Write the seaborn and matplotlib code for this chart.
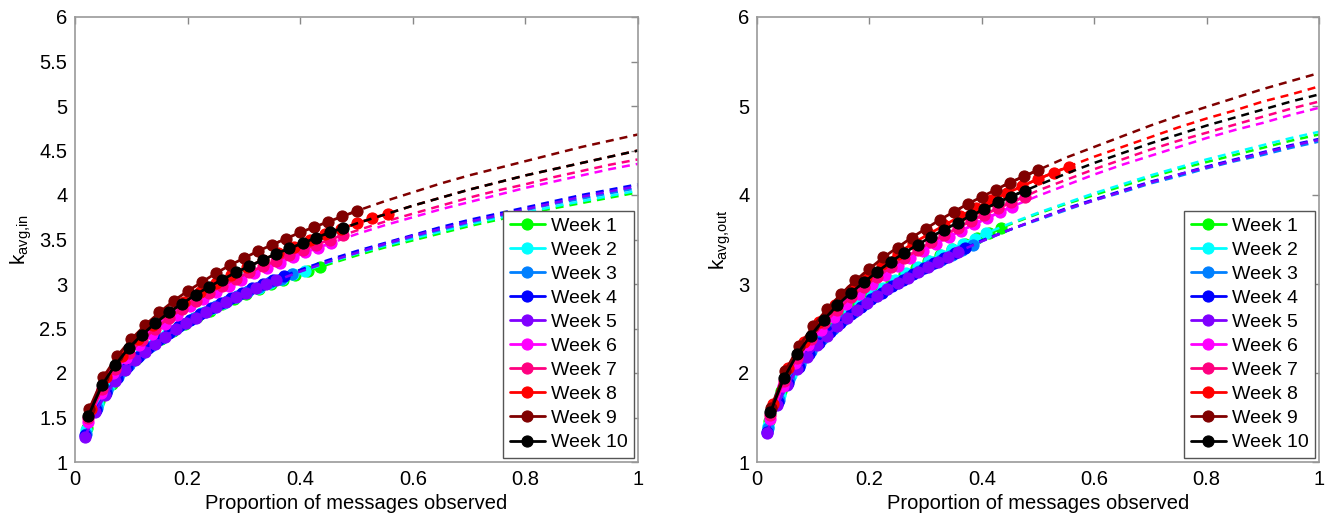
import numpy as np
import pandas as pd
import matplotlib
matplotlib.use("Agg")
import matplotlib.pyplot as plt
import seaborn as sns

# ---------------- data ----------------
weeks = ["Week 1", "Week 2", "Week 3", "Week 4", "Week 5",
         "Week 6", "Week 7", "Week 8", "Week 9", "Week 10"]
colors = ['#00ff00', '#00ffff', '#0080ff', '#0000ff', '#8000ff',
          '#ff00ff', '#ff0080', '#ff0000', '#800000', '#000000']

# each week: 20 observation steps; proportion observed = step / n_subsets
steps = [1, 2, 3, 4, 5, 6, 7, 8, 9, 10, 11, 12, 13, 14, 15, 16, 17, 18, 19, 20]
n_subsets = [46, 49, 52, 54, 56, 44, 42, 36, 40, 42]

# observed k_avg,in
kin_obs = [
    [1.38, 1.68, 1.88, 2.03, 2.16, 2.28, 2.38, 2.47, 2.55, 2.63, 2.70, 2.77, 2.83, 2.89, 2.94, 3.00, 3.05, 3.10, 3.15, 3.19],
    [1.36, 1.65, 1.85, 2.01, 2.14, 2.25, 2.35, 2.44, 2.52, 2.60, 2.67, 2.73, 2.79, 2.85, 2.91, 2.96, 3.01, 3.06, 3.11, 3.15],
    [1.32, 1.61, 1.81, 1.96, 2.09, 2.20, 2.30, 2.39, 2.47, 2.55, 2.62, 2.69, 2.75, 2.81, 2.86, 2.92, 2.97, 3.02, 3.06, 3.11],
    [1.30, 1.58, 1.78, 1.94, 2.07, 2.18, 2.28, 2.37, 2.45, 2.53, 2.60, 2.66, 2.73, 2.79, 2.84, 2.90, 2.95, 3.00, 3.04, 3.09],
    [1.28, 1.56, 1.75, 1.91, 2.03, 2.15, 2.24, 2.33, 2.41, 2.49, 2.56, 2.62, 2.68, 2.74, 2.80, 2.85, 2.90, 2.95, 3.00, 3.04],
    [1.45, 1.77, 2.00, 2.17, 2.32, 2.44, 2.55, 2.65, 2.75, 2.83, 2.91, 2.98, 3.05, 3.12, 3.18, 3.24, 3.30, 3.36, 3.41, 3.46],
    [1.49, 1.82, 2.05, 2.22, 2.37, 2.50, 2.62, 2.72, 2.81, 2.90, 2.98, 3.06, 3.13, 3.20, 3.26, 3.33, 3.38, 3.44, 3.50, 3.55],
    [1.59, 1.95, 2.19, 2.38, 2.54, 2.68, 2.80, 2.91, 3.01, 3.10, 3.19, 3.27, 3.35, 3.42, 3.49, 3.56, 3.62, 3.68, 3.74, 3.79],
    [1.59, 1.95, 2.19, 2.38, 2.54, 2.68, 2.81, 2.92, 3.02, 3.12, 3.21, 3.29, 3.37, 3.44, 3.51, 3.58, 3.64, 3.70, 3.76, 3.82],
    [1.52, 1.86, 2.09, 2.28, 2.43, 2.56, 2.68, 2.78, 2.88, 2.97, 3.05, 3.13, 3.20, 3.27, 3.34, 3.40, 3.46, 3.52, 3.58, 3.63],
]

# observed k_avg,out
kout_obs = [
    [1.46, 1.80, 2.04, 2.22, 2.38, 2.51, 2.64, 2.75, 2.85, 2.94, 3.03, 3.11, 3.18, 3.26, 3.33, 3.39, 3.45, 3.52, 3.57, 3.63],
    [1.41, 1.75, 1.98, 2.17, 2.32, 2.46, 2.58, 2.69, 2.79, 2.88, 2.96, 3.05, 3.12, 3.19, 3.26, 3.33, 3.39, 3.45, 3.51, 3.57],
    [1.38, 1.70, 1.93, 2.10, 2.25, 2.38, 2.50, 2.60, 2.69, 2.78, 2.86, 2.94, 3.01, 3.08, 3.15, 3.21, 3.27, 3.33, 3.38, 3.44],
    [1.34, 1.67, 1.89, 2.07, 2.21, 2.34, 2.46, 2.56, 2.66, 2.74, 2.83, 2.90, 2.98, 3.05, 3.11, 3.18, 3.24, 3.29, 3.35, 3.40],
    [1.33, 1.64, 1.86, 2.04, 2.18, 2.31, 2.42, 2.53, 2.62, 2.71, 2.79, 2.87, 2.94, 3.01, 3.07, 3.13, 3.19, 3.25, 3.30, 3.36],
    [1.48, 1.85, 2.11, 2.31, 2.48, 2.63, 2.77, 2.89, 3.00, 3.10, 3.20, 3.29, 3.37, 3.45, 3.53, 3.60, 3.67, 3.74, 3.81, 3.87],
    [1.53, 1.91, 2.17, 2.38, 2.56, 2.71, 2.85, 2.97, 3.08, 3.19, 3.29, 3.38, 3.47, 3.55, 3.63, 3.71, 3.78, 3.85, 3.92, 3.98],
    [1.65, 2.06, 2.35, 2.57, 2.76, 2.93, 3.08, 3.22, 3.34, 3.46, 3.56, 3.66, 3.76, 3.85, 3.94, 4.02, 4.10, 4.18, 4.25, 4.32],
    [1.61, 2.02, 2.30, 2.53, 2.72, 2.89, 3.04, 3.17, 3.30, 3.41, 3.52, 3.62, 3.72, 3.81, 3.90, 3.98, 4.06, 4.14, 4.21, 4.28],
    [1.56, 1.94, 2.21, 2.42, 2.60, 2.76, 2.90, 3.02, 3.14, 3.25, 3.35, 3.44, 3.53, 3.61, 3.69, 3.77, 3.84, 3.92, 3.98, 4.05],
]

# fitted (dashed) curves, sampled at fit_x
fit_x = [0.35, 0.40, 0.45, 0.50, 0.55, 0.60, 0.65, 0.70, 0.75, 0.80, 0.85, 0.90, 0.95, 1.00]
kin_fit = [
    [3.00, 3.12, 3.22, 3.32, 3.41, 3.49, 3.57, 3.65, 3.72, 3.79, 3.85, 3.91, 3.97, 4.03],
    [3.02, 3.13, 3.24, 3.34, 3.43, 3.51, 3.59, 3.67, 3.74, 3.80, 3.87, 3.93, 3.99, 4.05],
    [3.02, 3.14, 3.25, 3.35, 3.44, 3.53, 3.61, 3.69, 3.76, 3.83, 3.90, 3.96, 4.02, 4.08],
    [3.04, 3.16, 3.27, 3.37, 3.46, 3.55, 3.64, 3.72, 3.79, 3.86, 3.93, 4.00, 4.06, 4.12],
    [3.02, 3.14, 3.25, 3.35, 3.45, 3.54, 3.62, 3.70, 3.77, 3.84, 3.91, 3.98, 4.04, 4.10],
    [3.21, 3.33, 3.45, 3.56, 3.66, 3.75, 3.84, 3.92, 4.00, 4.08, 4.15, 4.22, 4.29, 4.35],
    [3.25, 3.37, 3.49, 3.60, 3.70, 3.79, 3.88, 3.97, 4.05, 4.12, 4.20, 4.27, 4.34, 4.40],
    [3.32, 3.45, 3.57, 3.68, 3.78, 3.88, 3.97, 4.06, 4.14, 4.22, 4.29, 4.36, 4.43, 4.50],
    [3.44, 3.58, 3.70, 3.82, 3.93, 4.03, 4.13, 4.22, 4.30, 4.38, 4.46, 4.54, 4.61, 4.68],
    [3.32, 3.45, 3.57, 3.68, 3.78, 3.88, 3.97, 4.06, 4.14, 4.22, 4.29, 4.36, 4.43, 4.50],
]
kout_fit = [
    [3.40, 3.54, 3.67, 3.79, 3.90, 4.00, 4.10, 4.20, 4.29, 4.37, 4.45, 4.53, 4.61, 4.68],
    [3.40, 3.55, 3.68, 3.80, 3.91, 4.02, 4.12, 4.22, 4.31, 4.40, 4.48, 4.56, 4.64, 4.71],
    [3.34, 3.48, 3.61, 3.72, 3.83, 3.94, 4.03, 4.13, 4.21, 4.30, 4.38, 4.45, 4.53, 4.60],
    [3.34, 3.49, 3.61, 3.73, 3.85, 3.95, 4.05, 4.15, 4.23, 4.32, 4.40, 4.48, 4.56, 4.63],
    [3.34, 3.48, 3.61, 3.73, 3.84, 3.94, 4.04, 4.14, 4.23, 4.31, 4.39, 4.47, 4.55, 4.62],
    [3.56, 3.71, 3.86, 3.99, 4.11, 4.23, 4.34, 4.44, 4.54, 4.64, 4.73, 4.81, 4.90, 4.98],
    [3.61, 3.77, 3.91, 4.05, 4.17, 4.29, 4.40, 4.51, 4.61, 4.70, 4.79, 4.88, 4.97, 5.05],
    [3.72, 3.89, 4.04, 4.18, 4.31, 4.43, 4.54, 4.65, 4.76, 4.86, 4.95, 5.05, 5.13, 5.22],
    [3.81, 3.98, 4.14, 4.28, 4.42, 4.54, 4.66, 4.78, 4.89, 4.99, 5.09, 5.19, 5.28, 5.37],
    [3.67, 3.83, 3.98, 4.11, 4.24, 4.36, 4.47, 4.58, 4.68, 4.78, 4.87, 4.96, 5.05, 5.13],
]

x_ticks = [0, 0.2, 0.4, 0.6, 0.8, 1]
x_ticklabels = ['0', '0.2', '0.4', '0.6', '0.8', '1']
yin_ticks = [1, 1.5, 2, 2.5, 3, 3.5, 4, 4.5, 5, 5.5, 6]
yin_ticklabels = ['1', '1.5', '2', '2.5', '3', '3.5', '4', '4.5', '5', '5.5', '6']
yout_ticks = [1, 2, 3, 4, 5, 6]
yout_ticklabels = ['1', '2', '3', '4', '5', '6']

# ---------------- drawing ----------------
sns.set_theme(style="white")
plt.rcParams['font.family'] = ['Liberation Sans', 'DejaVu Sans']
plt.rcParams['mathtext.fontset'] = 'custom'
plt.rcParams['mathtext.rm'] = 'Liberation Sans'
plt.rcParams['text.color'] = 'black'
plt.rcParams['axes.labelcolor'] = 'black'

fig = plt.figure(figsize=(13.3, 5.13), dpi=100)
ax_in = fig.add_axes([75 / 1330, 51 / 513, 563 / 1330, 445 / 513])
ax_out = fig.add_axes([757 / 1330, 51 / 513, 562 / 1330, 445 / 513])

panels = [
    (ax_in, kin_obs, kin_fit, "in", yin_ticks, yin_ticklabels),
    (ax_out, kout_obs, kout_fit, "out", yout_ticks, yout_ticklabels),
]

for ax, obs, fit, sub, yt, ytl in panels:
    for i, week in enumerate(weeks):
        df_obs = pd.DataFrame({"p": [s / n_subsets[i] for s in steps], "k": obs[i]})
        df_fit = pd.DataFrame({"p": fit_x, "k": fit[i]})
        sns.lineplot(data=df_fit, x="p", y="k", ax=ax, color=colors[i], lw=1.8,
                     linestyle=(0, (3.2, 2.4)), legend=False)
        sns.lineplot(data=df_obs, x="p", y="k", ax=ax, color=colors[i], lw=2,
                     marker='o', markersize=8, markeredgecolor=colors[i],
                     markeredgewidth=0.8, label=week)
    ax.set_xlim(0, 1)
    ax.set_ylim(1, 6)
    ax.set_xticks(x_ticks)
    ax.set_xticklabels(x_ticklabels)
    ax.set_yticks(yt)
    ax.set_yticklabels(ytl)
    ax.set_xlabel("Proportion of messages observed", fontsize=14.5, labelpad=4, color='black')
    ax.set_ylabel(r"$\mathregular{k_{avg{,}%s}}$" % sub, fontsize=15, labelpad=4, color='black')
    ax.tick_params(direction='in', top=True, right=True, length=5, width=1,
                   labelsize=14.5, color='#888888', labelcolor='black', pad=5.5)
    for s in ax.spines.values():
        s.set_color('#999999')
        s.set_linewidth(1.2)
    leg = ax.legend(loc='lower right', fontsize=14, frameon=True, fancybox=False,
                    edgecolor='#555555', framealpha=1, handlelength=1.8,
                    handletextpad=0.3, labelspacing=0.33, borderaxespad=0.2,
                    borderpad=0.35)
    for t in leg.get_texts():
        t.set_color('black')

fig.savefig("out.png", dpi=100)
